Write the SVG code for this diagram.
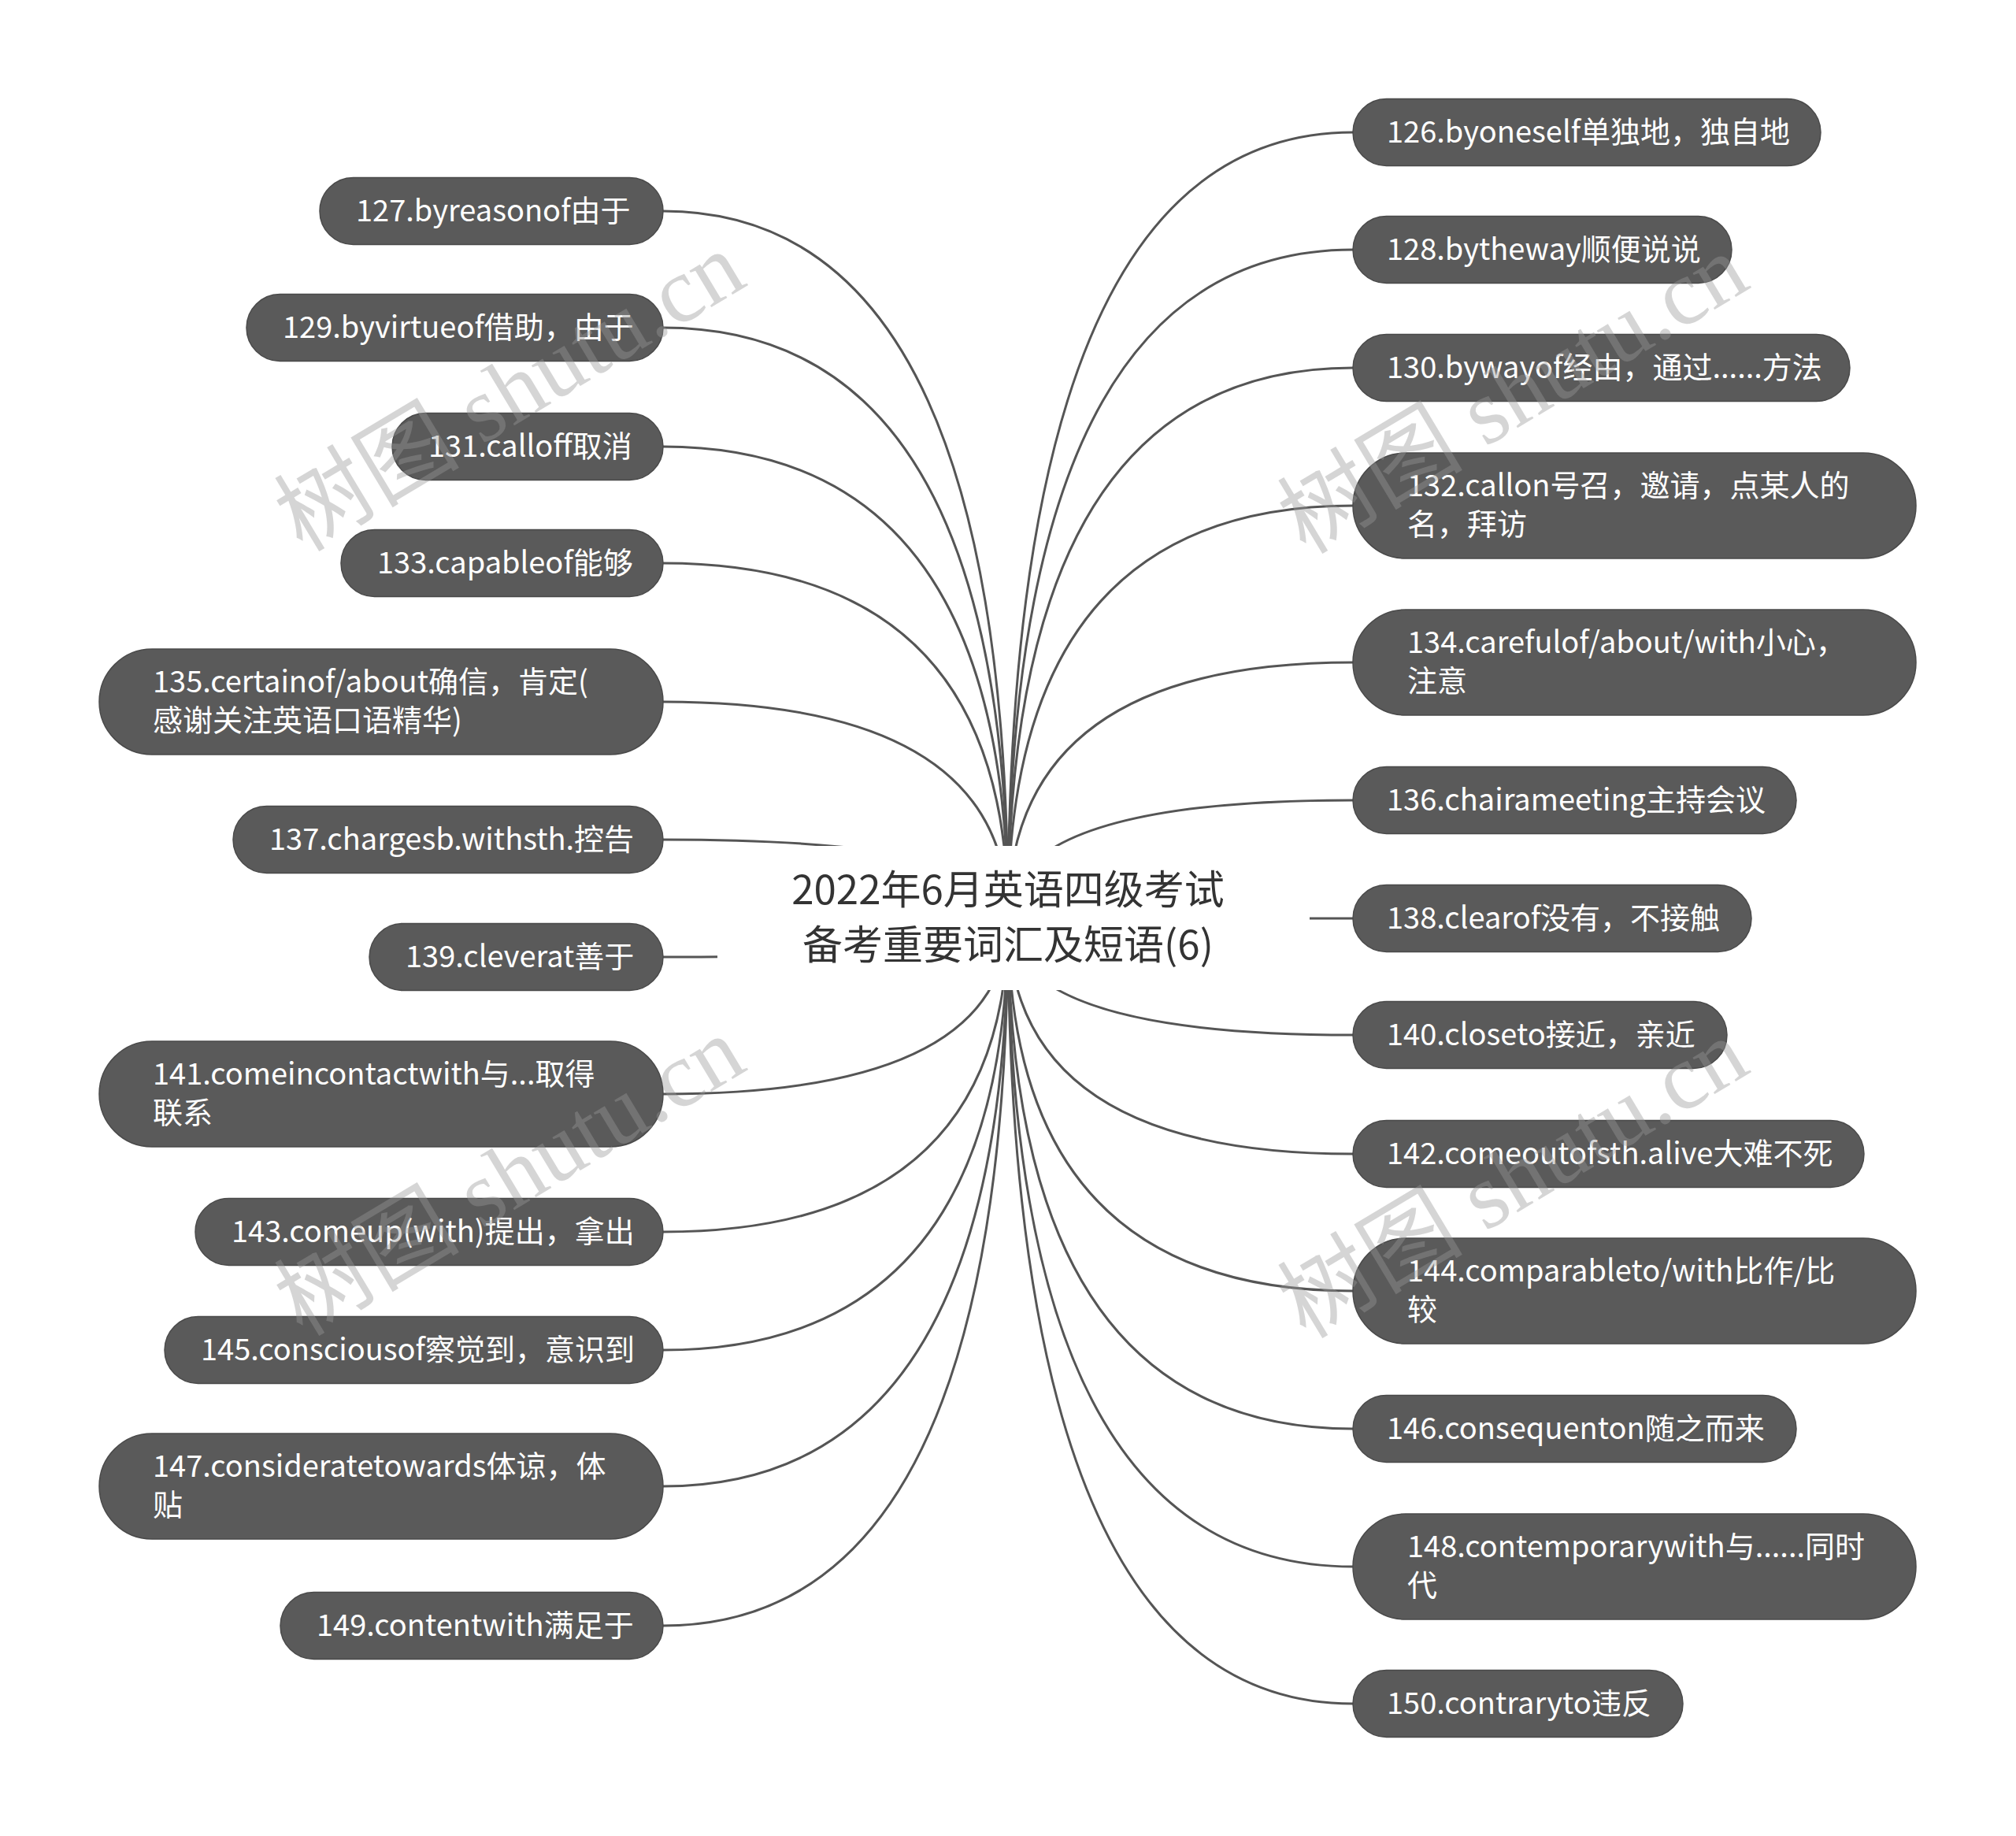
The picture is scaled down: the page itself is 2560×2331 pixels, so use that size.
<svg xmlns="http://www.w3.org/2000/svg" width="2560" height="2331" viewBox="0 0 2560 2331">
<style>
.bg{fill:#ffffff}
.edge{fill:none;stroke:#555555;stroke-width:3}
.node rect{fill:#5a5a5a;stroke:#4a4a4a;stroke-width:1.5}
.node text{fill:#ffffff;font-family:"Noto Sans CJK SC","Noto Sans",sans-serif;font-size:38px}
.root rect{fill:#ffffff}
.root text{fill:#333333;font-family:"Noto Sans CJK SC","Noto Sans",sans-serif;font-size:51px;text-anchor:middle}
.wm{fill:#999999;opacity:0.4;font-family:"Liberation Serif","Noto Sans CJK SC",serif;font-size:118px}
</style>
<rect class="bg" x="0" y="0" width="2560" height="2331"/>
<g id="connectors">
<path class="edge" d="M1280,1165 Q1280,168 1718,168"/>
<path class="edge" d="M1280,1165 Q1280,317 1718,317"/>
<path class="edge" d="M1280,1165 Q1280,467 1718,467"/>
<path class="edge" d="M1280,1165 Q1280,642 1718,642"/>
<path class="edge" d="M1280,1165 Q1280,841 1718,841"/>
<path class="edge" d="M1280,1165 Q1280,1016 1718,1016"/>
<path class="edge" d="M1280,1165 Q1280,1166 1718,1166"/>
<path class="edge" d="M1280,1165 Q1280,1314 1718,1314"/>
<path class="edge" d="M1280,1165 Q1280,1465 1718,1465"/>
<path class="edge" d="M1280,1165 Q1280,1639 1718,1639"/>
<path class="edge" d="M1280,1165 Q1280,1814 1718,1814"/>
<path class="edge" d="M1280,1165 Q1280,1989 1718,1989"/>
<path class="edge" d="M1280,1165 Q1280,2163 1718,2163"/>
<path class="edge" d="M1280,1165 Q1280,268 842,268"/>
<path class="edge" d="M1280,1165 Q1280,416 842,416"/>
<path class="edge" d="M1280,1165 Q1280,567 842,567"/>
<path class="edge" d="M1280,1165 Q1280,715 842,715"/>
<path class="edge" d="M1280,1165 Q1280,891 842,891"/>
<path class="edge" d="M1280,1165 Q1280,1066 842,1066"/>
<path class="edge" d="M1280,1165 Q1280,1215 842,1215"/>
<path class="edge" d="M1280,1165 Q1280,1389 842,1389"/>
<path class="edge" d="M1280,1165 Q1280,1564 842,1564"/>
<path class="edge" d="M1280,1165 Q1280,1714 842,1714"/>
<path class="edge" d="M1280,1165 Q1280,1887 842,1887"/>
<path class="edge" d="M1280,1165 Q1280,2064 842,2064"/>
</g>
<g id="root" class="root">
<rect x="911" y="1074" width="752" height="183"/>
<text x="1280" y="1148">2022年6月英语四级考试</text>
<text x="1280" y="1218">备考重要词汇及短语(6)</text>
</g>
<g id="n126" class="node"><rect x="1718" y="125.5" width="594" height="85" rx="42.5"/><text x="1761" y="181">126.byoneself单独地，独自地</text></g>
<g id="n128" class="node"><rect x="1718" y="274.5" width="481" height="85" rx="42.5"/><text x="1761" y="330">128.bytheway顺便说说</text></g>
<g id="n130" class="node"><rect x="1718" y="424.5" width="631" height="85" rx="42.5"/><text x="1761" y="480">130.bywayof经由，通过......方法</text></g>
<g id="n132" class="node"><rect x="1718" y="575" width="715" height="134" rx="67"/><text x="1787" y="630">132.callon号召，邀请，点某人的</text><text x="1787" y="679">名，拜访</text></g>
<g id="n134" class="node"><rect x="1718" y="774" width="715" height="134" rx="67"/><text x="1787" y="829">134.carefulof/about/with小心，</text><text x="1787" y="878">注意</text></g>
<g id="n136" class="node"><rect x="1718" y="973.5" width="563" height="85" rx="42.5"/><text x="1761" y="1029">136.chairameeting主持会议</text></g>
<g id="n138" class="node"><rect x="1718" y="1123.5" width="506" height="85" rx="42.5"/><text x="1761" y="1179">138.clearof没有，不接触</text></g>
<g id="n140" class="node"><rect x="1718" y="1271.5" width="475" height="85" rx="42.5"/><text x="1761" y="1327">140.closeto接近，亲近</text></g>
<g id="n142" class="node"><rect x="1718" y="1422.5" width="649" height="85" rx="42.5"/><text x="1761" y="1478">142.comeoutofsth.alive大难不死</text></g>
<g id="n144" class="node"><rect x="1718" y="1572" width="715" height="134" rx="67"/><text x="1787" y="1627">144.comparableto/with比作/比</text><text x="1787" y="1676">较</text></g>
<g id="n146" class="node"><rect x="1718" y="1771.5" width="563" height="85" rx="42.5"/><text x="1761" y="1827">146.consequenton随之而来</text></g>
<g id="n148" class="node"><rect x="1718" y="1922" width="715" height="134" rx="67"/><text x="1787" y="1977">148.contemporarywith与......同时</text><text x="1787" y="2026">代</text></g>
<g id="n150" class="node"><rect x="1718" y="2120.5" width="419" height="85" rx="42.5"/><text x="1761" y="2176">150.contraryto违反</text></g>
<g id="n127" class="node"><rect x="406" y="225.5" width="436" height="85" rx="42.5"/><text x="452" y="281">127.byreasonof由于</text></g>
<g id="n129" class="node"><rect x="313" y="373.5" width="529" height="85" rx="42.5"/><text x="359" y="429">129.byvirtueof借助，由于</text></g>
<g id="n131" class="node"><rect x="498" y="524.5" width="344" height="85" rx="42.5"/><text x="544" y="580">131.calloff取消</text></g>
<g id="n133" class="node"><rect x="433" y="672.5" width="409" height="85" rx="42.5"/><text x="479" y="728">133.capableof能够</text></g>
<g id="n135" class="node"><rect x="126" y="824" width="716" height="134" rx="67"/><text x="194" y="879">135.certainof/about确信，肯定(</text><text x="194" y="928">感谢关注英语口语精华)</text></g>
<g id="n137" class="node"><rect x="296" y="1023.5" width="546" height="85" rx="42.5"/><text x="342" y="1079">137.chargesb.withsth.控告</text></g>
<g id="n139" class="node"><rect x="469" y="1172.5" width="373" height="85" rx="42.5"/><text x="515" y="1228">139.cleverat善于</text></g>
<g id="n141" class="node"><rect x="126" y="1322" width="716" height="134" rx="67"/><text x="194" y="1377">141.comeincontactwith与...取得</text><text x="194" y="1426">联系</text></g>
<g id="n143" class="node"><rect x="248" y="1521.5" width="594" height="85" rx="42.5"/><text x="294" y="1577">143.comeup(with)提出，拿出</text></g>
<g id="n145" class="node"><rect x="209" y="1671.5" width="633" height="85" rx="42.5"/><text x="255" y="1727">145.consciousof察觉到，意识到</text></g>
<g id="n147" class="node"><rect x="126" y="1820" width="716" height="134" rx="67"/><text x="194" y="1875">147.consideratetowards体谅，体</text><text x="194" y="1924">贴</text></g>
<g id="n149" class="node"><rect x="356" y="2021.5" width="486" height="85" rx="42.5"/><text x="402" y="2077">149.contentwith满足于</text></g>
<g id="watermarks">
<text class="wm" transform="translate(384,702) rotate(-31)">树图 shutu.cn</text>
<text class="wm" transform="translate(1658,705) rotate(-31)">树图 shutu.cn</text>
<text class="wm" transform="translate(384,1698) rotate(-31)">树图 shutu.cn</text>
<text class="wm" transform="translate(1658,1701) rotate(-31)">树图 shutu.cn</text>
</g>
</svg>
